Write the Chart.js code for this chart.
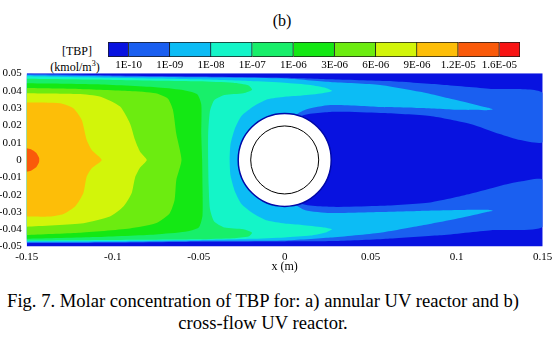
<!DOCTYPE html>
<html>
<head>
<meta charset="utf-8">
<script src="https://cdn.jsdelivr.net/npm/chart.js@4.4.1/dist/chart.umd.min.js"></script>
<style>
  body { margin: 0; background: #fff; }
  #wrap { position: relative; width: 559px; height: 339px; overflow: hidden;
          font-family: "Liberation Serif", "DejaVu Serif", serif; color: #000; }
  .txt { position: absolute; white-space: nowrap; text-align: center; }
  .txt sup { font-size: 8px; vertical-align: 5px; line-height: 0; }
  #plot { position: absolute; left: 0; top: 60px; }
  #bar { position: absolute; left: 108px; top: 42px; }
</style>
</head>
<body>
<div id="wrap">
  <div class="txt" style="left:262px;top:11px;width:40px;font-size:16px;line-height:20px;">(b)</div>
  <div class="txt" style="left:47px;top:44px;width:60px;font-size:12px;line-height:15px;">[TBP]</div>
  <div class="txt" style="left:45px;top:60px;width:60px;font-size:12px;line-height:15px;">(kmol/m<sup>3</sup>)</div>
  <canvas id="bar" width="412" height="30"></canvas>
  <canvas id="plot" width="559" height="214"></canvas>
  <div class="txt" style="left:0;top:290px;width:526px;font-size:18.6px;line-height:22px;">Fig. 7. Molar concentration of TBP for: a) annular UV reactor and b)<br>cross-flow UV reactor.</div>
</div>
<script>
// colour bar levels (kmol/m3)
const levelLabels = ["1E-10", "1E-09", "1E-08", "1E-07", "1E-06", "3E-06", "6E-06", "9E-06", "1.2E-05", "1.6E-05"];
const levelColors = ["#0812e0", "#1a5ff0", "#0cbcf5", "#14f5c8", "#18ef6a", "#14e814", "#6cec10", "#d2f50a", "#fdbe08", "#fa5a0a", "#f81414"];

const xTickValues = [-0.15, -0.1, -0.05, 0, 0.05, 0.1, 0.15];
const xTickLabels = ["-0.15", "-0.1", "-0.05", "0", "0.05", "0.1", "0.15"];
const yTickValues = [0.05, 0.04, 0.03, 0.02, 0.01, 0, -0.01, -0.02, -0.03, -0.04, -0.05];
const yTickLabels = ["0.05", "0.04", "0.03", "0.02", "0.01", "0", "-0.01", "-0.02", "-0.03", "-0.04", "-0.05"];

// contour regions: TBP >= level k, outlines as [x, y] in m
const domainL0 = [[-0.15, 0.05], [0.15, 0.05], [0.15, -0.05], [-0.15, -0.05]];
const contourL1 = [[-0.15, 0.0497], [-0.1, 0.0488], [-0.05, 0.0482], [0, 0.0475], [0.0265, 0.0466], [0.06, 0.0455], [0.09, 0.0435], [0.12, 0.041], [0.15, 0.0387],
  [0.15, 0.0104], [0.137, 0.0115], [0.125, 0.015], [0.108, 0.0208], [0.0845, 0.0254], [0.0555, 0.0271], [0.0265, 0.0277], [0.008, 0.024],
  [0.008, -0.024], [0.0265, -0.027], [0.0555, -0.0265], [0.0845, -0.0245], [0.108, -0.0195], [0.125, -0.015], [0.137, -0.0125], [0.15, -0.0115],
  [0.15, -0.0385], [0.12, -0.0405], [0.09, -0.0435], [0.06, -0.0455], [0.03, -0.0468], [0, -0.047], [-0.05, -0.0472], [-0.1, -0.0478], [-0.15, -0.048]];
const contourL2 = [[-0.15, 0.049], [-0.1, 0.0482], [-0.05, 0.0477], [0, 0.047], [0.0265, 0.045], [0.0555, 0.0433], [0.0787, 0.0393], [0.102, 0.034], [0.1176, 0.0302], [0.121, 0.0292],
  [0.1176, 0.0287], [0.102, 0.0289], [0.0787, 0.03], [0.0555, 0.0306], [0.0265, 0.0317], [0.012, 0.029], [0.006, 0.025],
  [0.006, -0.025], [0.012, -0.029], [0.0265, -0.0306], [0.0555, -0.03], [0.0787, -0.0294], [0.102, -0.0289], [0.1176, -0.0288], [0.121, -0.0293],
  [0.1176, -0.03], [0.102, -0.0335], [0.0787, -0.038], [0.0555, -0.042], [0.0265, -0.0448], [0, -0.0465], [-0.05, -0.0467], [-0.1, -0.0473], [-0.15, -0.0475]];
const contourL3 = [[-0.15, 0.0483], [-0.1, 0.0474], [-0.05, 0.0465], [-0.02, 0.0455], [0, 0.0445], [0.015, 0.0432], [0.024, 0.0415], [0.0275, 0.0398], [0.022, 0.0385], [0.01, 0.0372],
  [0, 0.0365], [-0.01, 0.035], [-0.018, 0.031], [-0.025, 0.0255], [-0.029, 0.018], [-0.0315, 0.009], [-0.032, 0],
  [-0.0315, -0.009], [-0.029, -0.018], [-0.025, -0.0255], [-0.018, -0.031], [-0.01, -0.035], [0, -0.0367], [0.01, -0.0375], [0.022, -0.0388],
  [0.0275, -0.04], [0.024, -0.0418], [0.015, -0.0436], [0, -0.0447], [-0.02, -0.0455], [-0.05, -0.0462], [-0.1, -0.0468], [-0.15, -0.047]];
const contourL4 = [[-0.15, 0.0468], [-0.1, 0.0462], [-0.05, 0.0454], [-0.03, 0.0445], [-0.021, 0.043], [-0.019, 0.0405], [-0.024, 0.0385], [-0.035, 0.0375], [-0.041, 0.0345],
  [-0.0435, 0.028], [-0.0445, 0.015], [-0.0445, 0], [-0.0442, -0.015], [-0.0435, -0.028], [-0.041, -0.0355], [-0.035, -0.039], [-0.024, -0.04],
  [-0.019, -0.042], [-0.021, -0.0442], [-0.03, -0.0452], [-0.05, -0.0458], [-0.1, -0.0462], [-0.15, -0.0465]];
const contourL5 = [[-0.15, 0.0443], [-0.11, 0.0437], [-0.075, 0.042], [-0.06, 0.0405], [-0.051, 0.038], [-0.0485, 0.032], [-0.0485, 0.015], [-0.048, 0],
  [-0.0478, -0.015], [-0.0478, -0.032], [-0.05, -0.039], [-0.058, -0.0415], [-0.075, -0.043], [-0.11, -0.0445], [-0.15, -0.0455]];
const contourL6 = [[-0.15, 0.0415], [-0.12, 0.041], [-0.09, 0.0398], [-0.075, 0.0385], [-0.068, 0.0355], [-0.065, 0.029], [-0.063, 0.015], [-0.06, 0],
  [-0.063, -0.0115], [-0.064, -0.0231], [-0.067, -0.031], [-0.075, -0.0365], [-0.09, -0.0395], [-0.12, -0.042], [-0.15, -0.0433]];
const contourL7 = [[-0.15, 0.0385], [-0.12, 0.038], [-0.107, 0.0365], [-0.0957, 0.0308], [-0.09, 0.0212], [-0.087, 0.0115], [-0.0841, 0.0048], [-0.0802, 0],
  [-0.0841, -0.0044], [-0.087, -0.0102], [-0.089, -0.0192], [-0.0938, -0.0269], [-0.1016, -0.0327], [-0.117, -0.0365], [-0.15, -0.0385]];
const contourL8 = [[-0.15, 0.0331], [-0.1306, 0.0327], [-0.1229, 0.0298], [-0.118, 0.0231], [-0.1151, 0.0115], [-0.1122, 0.0058], [-0.1064, 0],
  [-0.1122, -0.0048], [-0.1151, -0.0096], [-0.1171, -0.0192], [-0.1219, -0.0269], [-0.1287, -0.0312], [-0.1365, -0.0327], [-0.15, -0.0327]];
const contourL9 = [[-0.15, 0.0068], [-0.1475, 0.0062], [-0.1445, 0.0042], [-0.1428, 0.0012], [-0.1428, -0.0012], [-0.1445, -0.0042], [-0.1475, -0.0062], [-0.15, -0.0068]];

// UV lamp / sleeve position
const cylinderCenter = [{x: 0, y: 0}];

const bands = [domainL0, contourL1, contourL2, contourL3, contourL4, contourL5, contourL6, contourL7, contourL8, contourL9];
const serif = "'Liberation Serif', 'DejaVu Serif', serif";

// colour bar
new Chart(document.getElementById("bar"), {
  type: "bar",
  data: {
    labels: [""],
    datasets: levelColors.map((c, i) => ({
      data: [i === 0 || i === levelColors.length - 1 ? 0.5 : 1],
      backgroundColor: c,
      borderColor: "#1a1a1a",
      borderWidth: {top: 1, bottom: 1, right: 1, left: i === 0 ? 1 : 0},
      borderSkipped: false,
      barPercentage: 1,
      categoryPercentage: 1
    }))
  },
  options: {
    indexAxis: "y",
    responsive: false,
    animation: false,
    devicePixelRatio: 1,
    events: [],
    layout: {padding: 0, autoPadding: false},
    plugins: {legend: {display: false}, tooltip: {enabled: false}},
    scales: {
      x: {
        stacked: true, min: 0, max: 10,
        grid: {display: false, drawTicks: false},
        border: {display: false},
        afterBuildTicks: s => { s.ticks = levelLabels.map((_, i) => ({value: i + 0.5})); },
        ticks: {callback: (v, i) => levelLabels[i], padding: 2, autoSkip: false, maxRotation: 0,
                font: {family: serif, size: 11}, color: "#000"},
        afterFit: s => { s.height = 15; s.paddingLeft = 0; s.paddingRight = 0; }
      },
      y: {stacked: true, display: false}
    }
  }
});

// contour field
const datasets = bands.map((pts, i) => ({
  data: pts.map(([x, y]) => ({x, y})),
  fill: "shape",
  backgroundColor: levelColors[i],
  borderWidth: 0,
  pointRadius: 0,
  tension: 0.2,
  clip: false,
  order: 20 - i
}));
datasets.push({
  data: cylinderCenter, showLine: false, fill: false,
  pointRadius: 46.5, pointBackgroundColor: "#ffffff", pointBorderColor: "#0008a8", pointBorderWidth: 1.5,
  order: 1
});
datasets.push({
  data: cylinderCenter, showLine: false, fill: false,
  pointRadius: 34, pointBackgroundColor: "rgba(0,0,0,0)", pointBorderColor: "#000", pointBorderWidth: 1,
  order: 0
});

new Chart(document.getElementById("plot"), {
  type: "line",
  data: {datasets},
  options: {
    responsive: false,
    animation: false,
    devicePixelRatio: 1,
    events: [],
    layout: {padding: {top: 13.3, right: 16.3, left: 0, bottom: 0}, autoPadding: false},
    plugins: {legend: {display: false}, tooltip: {enabled: false}},
    scales: {
      x: {
        type: "linear", min: -0.15, max: 0.15,
        grid: {display: false, drawTicks: false},
        border: {display: false},
        afterBuildTicks: s => { s.ticks = xTickValues.map(v => ({value: v})); },
        ticks: {callback: (v, i) => xTickLabels[i], padding: 4, autoSkip: false, maxRotation: 0,
                font: {family: serif, size: 11}, color: "#000"},
        title: {display: true, text: "x (m)", padding: 0, font: {family: serif, size: 12}, color: "#000"},
        afterFit: s => { s.height = 27.4; s.paddingLeft = 0; s.paddingRight = 0; }
      },
      y: {
        type: "linear", min: -0.05, max: 0.05,
        grid: {display: false, drawTicks: false},
        border: {display: false},
        afterBuildTicks: s => { s.ticks = yTickValues.map(v => ({value: v})); },
        ticks: {callback: (v, i) => yTickLabels[i], padding: 5, autoSkip: false,
                font: {family: serif, size: 11}, color: "#000"},
        afterFit: s => { s.width = 26.7; s.paddingTop = 0; s.paddingBottom = 0; }
      }
    }
  }
});
</script>
</body>
</html>
